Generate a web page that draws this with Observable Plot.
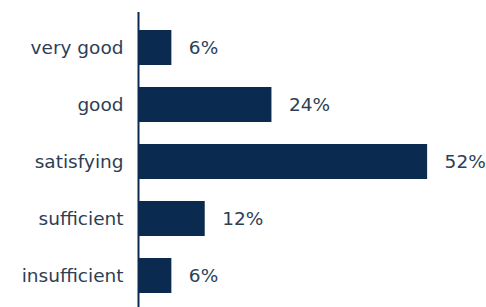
<!DOCTYPE html>
<html>
<head>
<meta charset="utf-8">
<script src="https://cdn.jsdelivr.net/npm/d3@7"></script>
<script src="https://cdn.jsdelivr.net/npm/@observablehq/plot@0.6"></script>
<style>
  html, body { margin: 0; padding: 0; background: #fff; }
  #chart svg { display: block; }
</style>
</head>
<body>
<div id="chart"></div>
<script>
const categories = ["very good", "good", "satisfying", "sufficient", "insufficient"];
const values = [6, 24, 52, 12, 6];
const valueLabels = ["6%", "24%", "52%", "12%", "6%"];

const data = categories.map((c, i) => ({category: c, value: values[i], label: valueLabels[i]}));

const barColor = "#0b2a50";
const textColor = "#2e3e54";
const font = "DejaVu Sans, sans-serif";
const fs = 18.5;

const chart = Plot.plot({
  width: 486,
  height: 307,
  marginLeft: 138,
  marginRight: 14.4,
  marginTop: 17,
  marginBottom: 1,
  style: {fontFamily: font, fontSize: fs + "px", color: textColor, background: "#fff"},
  x: {domain: [0, 60], axis: null},
  y: {domain: categories, padding: 0.39, paddingOuter: 0.2, label: null},
  marks: [
    Plot.axisY({tickSize: 0, tickPadding: 15, fontSize: fs, fill: textColor, label: null}),
    Plot.barX(data, {x: "value", y: "category", fill: barColor}),
    Plot.text(data, {x: "value", y: "category", text: "label", textAnchor: "start", dx: 17, fill: textColor, fontSize: fs}),
    Plot.ruleX([0], {stroke: barColor, strokeWidth: 2, insetTop: -5, insetBottom: -1})
  ]
});
document.getElementById("chart").appendChild(chart);
</script>
</body>
</html>
